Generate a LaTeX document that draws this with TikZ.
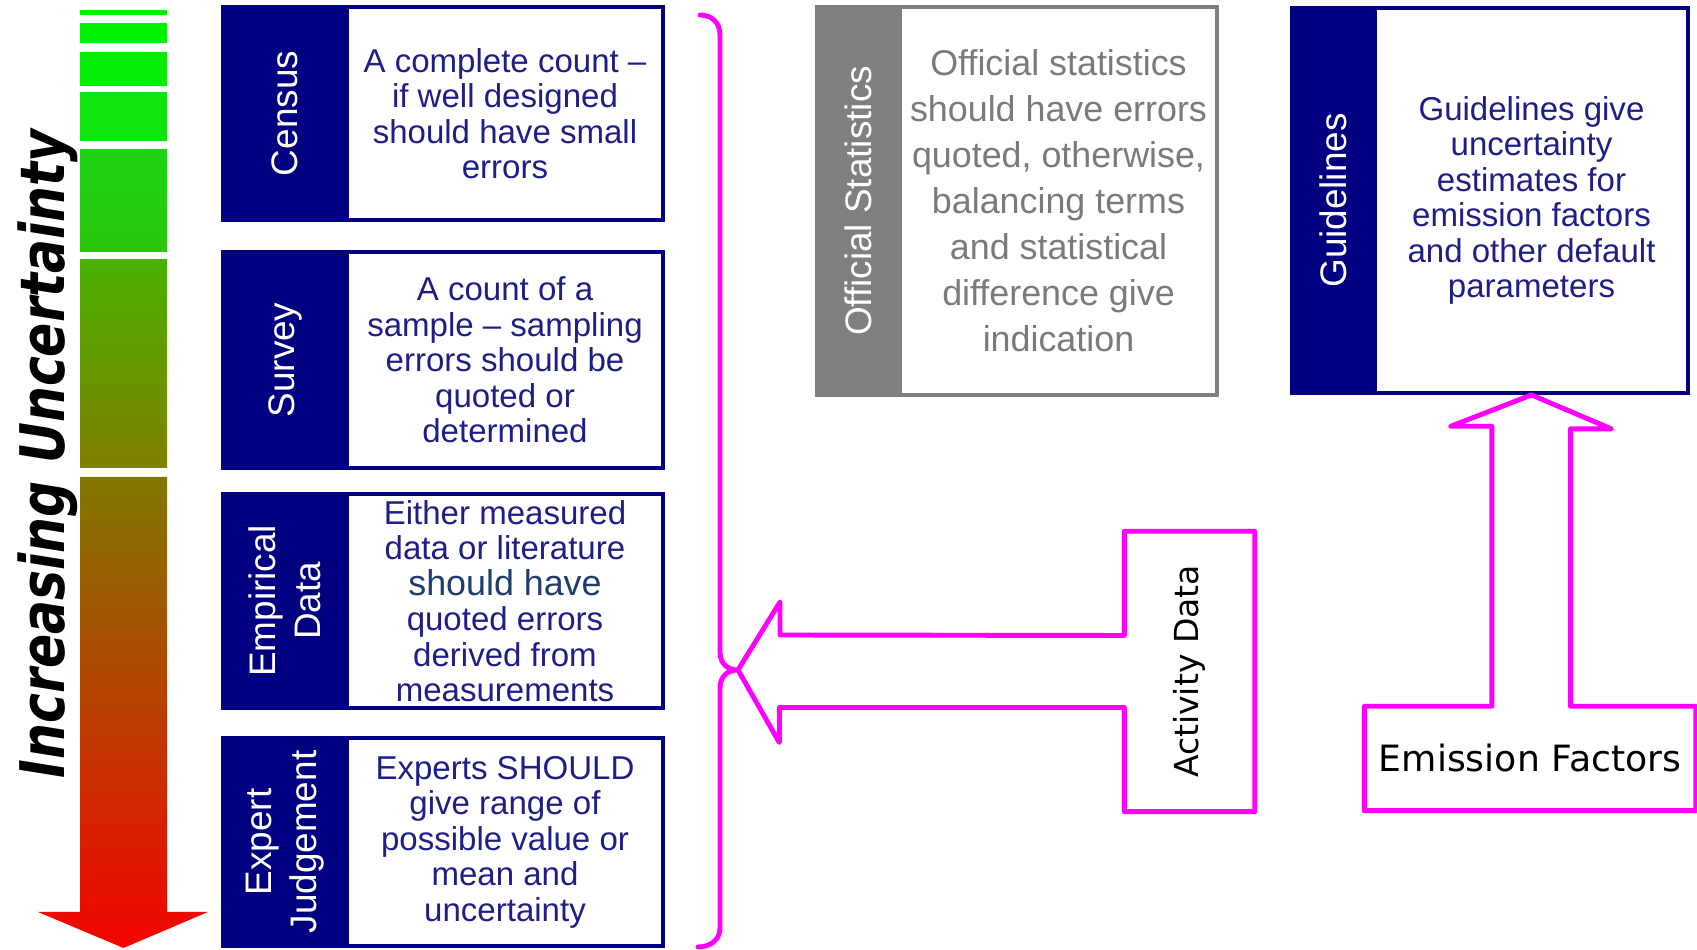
\documentclass[tikz,border=0pt]{standalone}
\usepackage{fontspec}
\setmainfont{Liberation Sans}
\newfontfamily\comicfont{DejaVu Sans}
\usetikzlibrary{calc}

\definecolor{navyblue}{RGB}{0,0,128}
\definecolor{navytext}{RGB}{30,30,135}
\definecolor{tealtext}{RGB}{30,60,110}
\definecolor{statgray}{RGB}{128,128,128}
\definecolor{stattext}{RGB}{122,122,122}
\definecolor{pinkline}{RGB}{255,0,255}
\definecolor{barA}{RGB}{0,240,0}
\definecolor{barB}{RGB}{6,236,6}
\definecolor{barC}{RGB}{14,228,14}
\definecolor{barD}{RGB}{30,212,20}
\definecolor{barE}{RGB}{42,198,12}
\definecolor{barF}{RGB}{74,176,0}
\definecolor{barG}{RGB}{128,128,0}
\definecolor{barH}{RGB}{128,120,0}
\definecolor{barI}{RGB}{196,66,0}
\definecolor{barJ}{RGB}{244,4,0}

\tikzset{
  band/.style={fill=navyblue, draw=navyblue, line width=1.1pt, text=white,
    rotate=90, inner sep=0pt, align=center,
    font=\fontsize{10.5}{12.8}\selectfont},
  textbox/.style={draw=navyblue, line width=1.1pt, text=navytext,
    inner sep=0pt, align=center, font=\fontsize{9.4}{10.1}\selectfont},
  pinkpath/.style={draw=pinkline, line width=1.4pt, line join=round,
    line cap=round},
}

\begin{document}
\begin{tikzpicture}
\useasboundingbox (0,0) rectangle (16.97,9.50);

% Farbbalken
\fill[barA] (0.80,9.40) rectangle (1.67,9.35);
\fill[barA] (0.80,9.27) rectangle (1.67,9.07);
\fill[barB] (0.80,8.98) rectangle (1.67,8.64);
\fill[barC] (0.80,8.58) rectangle (1.67,8.09);
\shade[top color=barD, bottom color=barE] (0.80,8.00) rectangle (1.67,6.98);
\shade[top color=barF, bottom color=barG] (0.80,6.90) rectangle (1.67,4.82);
\shade[top color=barH, middle color=barI, bottom color=barJ]
  (0.80,4.73) -- (1.67,4.73) -- (1.67,0.38) -- (2.08,0.38)
  -- (1.235,0.02) -- (0.38,0.38) -- (0.80,0.38) -- cycle;

\node[rotate=90, anchor=base, xscale=0.82, inner sep=0pt,
      font=\comicfont\bfseries\itshape\fontsize{17.5}{20}\selectfont] (uncert)
  at (0.65,4.96) {Increasing Uncertainty};

% Census
\node[band, minimum width=2.13cm, minimum height=1.24cm] (censusband)
  at (2.85,8.365) {Census};
\node[textbox, minimum width=3.16cm, minimum height=2.13cm] (census)
  at (5.05,8.365) {A complete count --\\ if well designed\\ should have small\\ errors};

% Survey
\node[band, minimum width=2.16cm, minimum height=1.24cm] (surveyband)
  at (2.85,5.90) {Survey};
\node[textbox, minimum width=3.16cm, minimum height=2.16cm] (survey)
  at (5.05,5.90) {A count of a\\ sample -- sampling\\ errors should be\\ quoted or\\ determined};

% Empirical Data
\node[band, minimum width=2.14cm, minimum height=1.24cm] (empiricband)
  at (2.85,3.49) {Empirical\\ Data};
\node[textbox, minimum width=3.16cm, minimum height=2.14cm] (empiric)
  at (5.05,3.49) {Either measured\\ data or literature\\
  {\color{tealtext}\fontsize{10.2}{10.1}\selectfont should have}\\
  quoted errors\\ derived from\\ measurements};

% Expert Judgement
\node[band, minimum width=2.08cm, minimum height=1.24cm] (expertband)
  at (2.85,1.08) {Expert\\ Judgement};
\node[textbox, minimum width=3.16cm, minimum height=2.08cm] (expert)
  at (5.05,1.08) {Experts SHOULD\\ give range of\\ possible value or\\ mean and\\ uncertainty};

% Official Statistics
\node[band, fill=statgray, draw=statgray, minimum width=3.88cm,
      minimum height=0.83cm] (officialband)
  at (8.585,7.49) {Official Statistics};
\node[textbox, draw=statgray, text=stattext, minimum width=3.17cm,
      minimum height=3.88cm, font=\fontsize{10.2}{13.1}\selectfont] (official)
  at (10.585,7.49) {Official statistics\\ should have errors\\ quoted, otherwise,\\
  balancing terms\\ and statistical\\ difference give\\ indication};

% Guidelines
\node[band, minimum width=3.85cm, minimum height=0.83cm] (guideband)
  at (13.335,7.495) {Guidelines};
\node[textbox, minimum width=3.13cm, minimum height=3.85cm] (guide)
  at (15.315,7.495) {Guidelines give\\ uncertainty\\ estimates for\\
  emission factors\\ and other default\\ parameters};

% Klammer
\coordinate (bracetip) at (7.38,2.80);
\draw[pinkpath] (7.00,9.35) .. controls (7.12,9.35) and (7.20,9.27) .. (7.20,9.15)
  -- (7.20,2.98) .. controls (7.20,2.86) and (7.28,2.80) .. (bracetip)
  .. controls (7.28,2.80) and (7.20,2.74) .. (7.20,2.62)
  -- (7.20,0.22) .. controls (7.20,0.10) and (7.10,0.03) .. (6.98,0.03);

% Activity Data
\node[minimum width=1.29cm, minimum height=2.79cm, inner sep=0pt,
      font=\comicfont\fontsize{9.4}{11}\selectfont] (act)
  at (11.895,2.785) {\rotatebox{90}{Activity Data}};
\draw[pinkpath] (bracetip) -- ++(0.42,0.68) -- ++(0,-0.33)
  -- ($(act.west)+(0,0.36)$) -- (act.north west) -- (act.north east)
  -- (act.south east) -- (act.south west) -- ($(act.west)+(0,-0.36)$)
  -- ++(-3.45,0) -- ++(0,-0.35) -- cycle;

% Emission Factors
\node[minimum width=3.30cm, minimum height=1.03cm, inner sep=0pt,
      font=\comicfont\fontsize{10.3}{12}\selectfont] (emis)
  at (15.30,1.915) {Emission Factors};
\draw[pinkpath] (guide.south) -- ++(0.80,-0.34) -- ++(-0.41,0)
  |- (emis.north east) -- (emis.south east) -- (emis.south west)
  -- (emis.north west) -- ++(1.275,0) -- ++(0,2.80) -- ++(-0.41,0) -- cycle;

\end{tikzpicture}
\end{document}
